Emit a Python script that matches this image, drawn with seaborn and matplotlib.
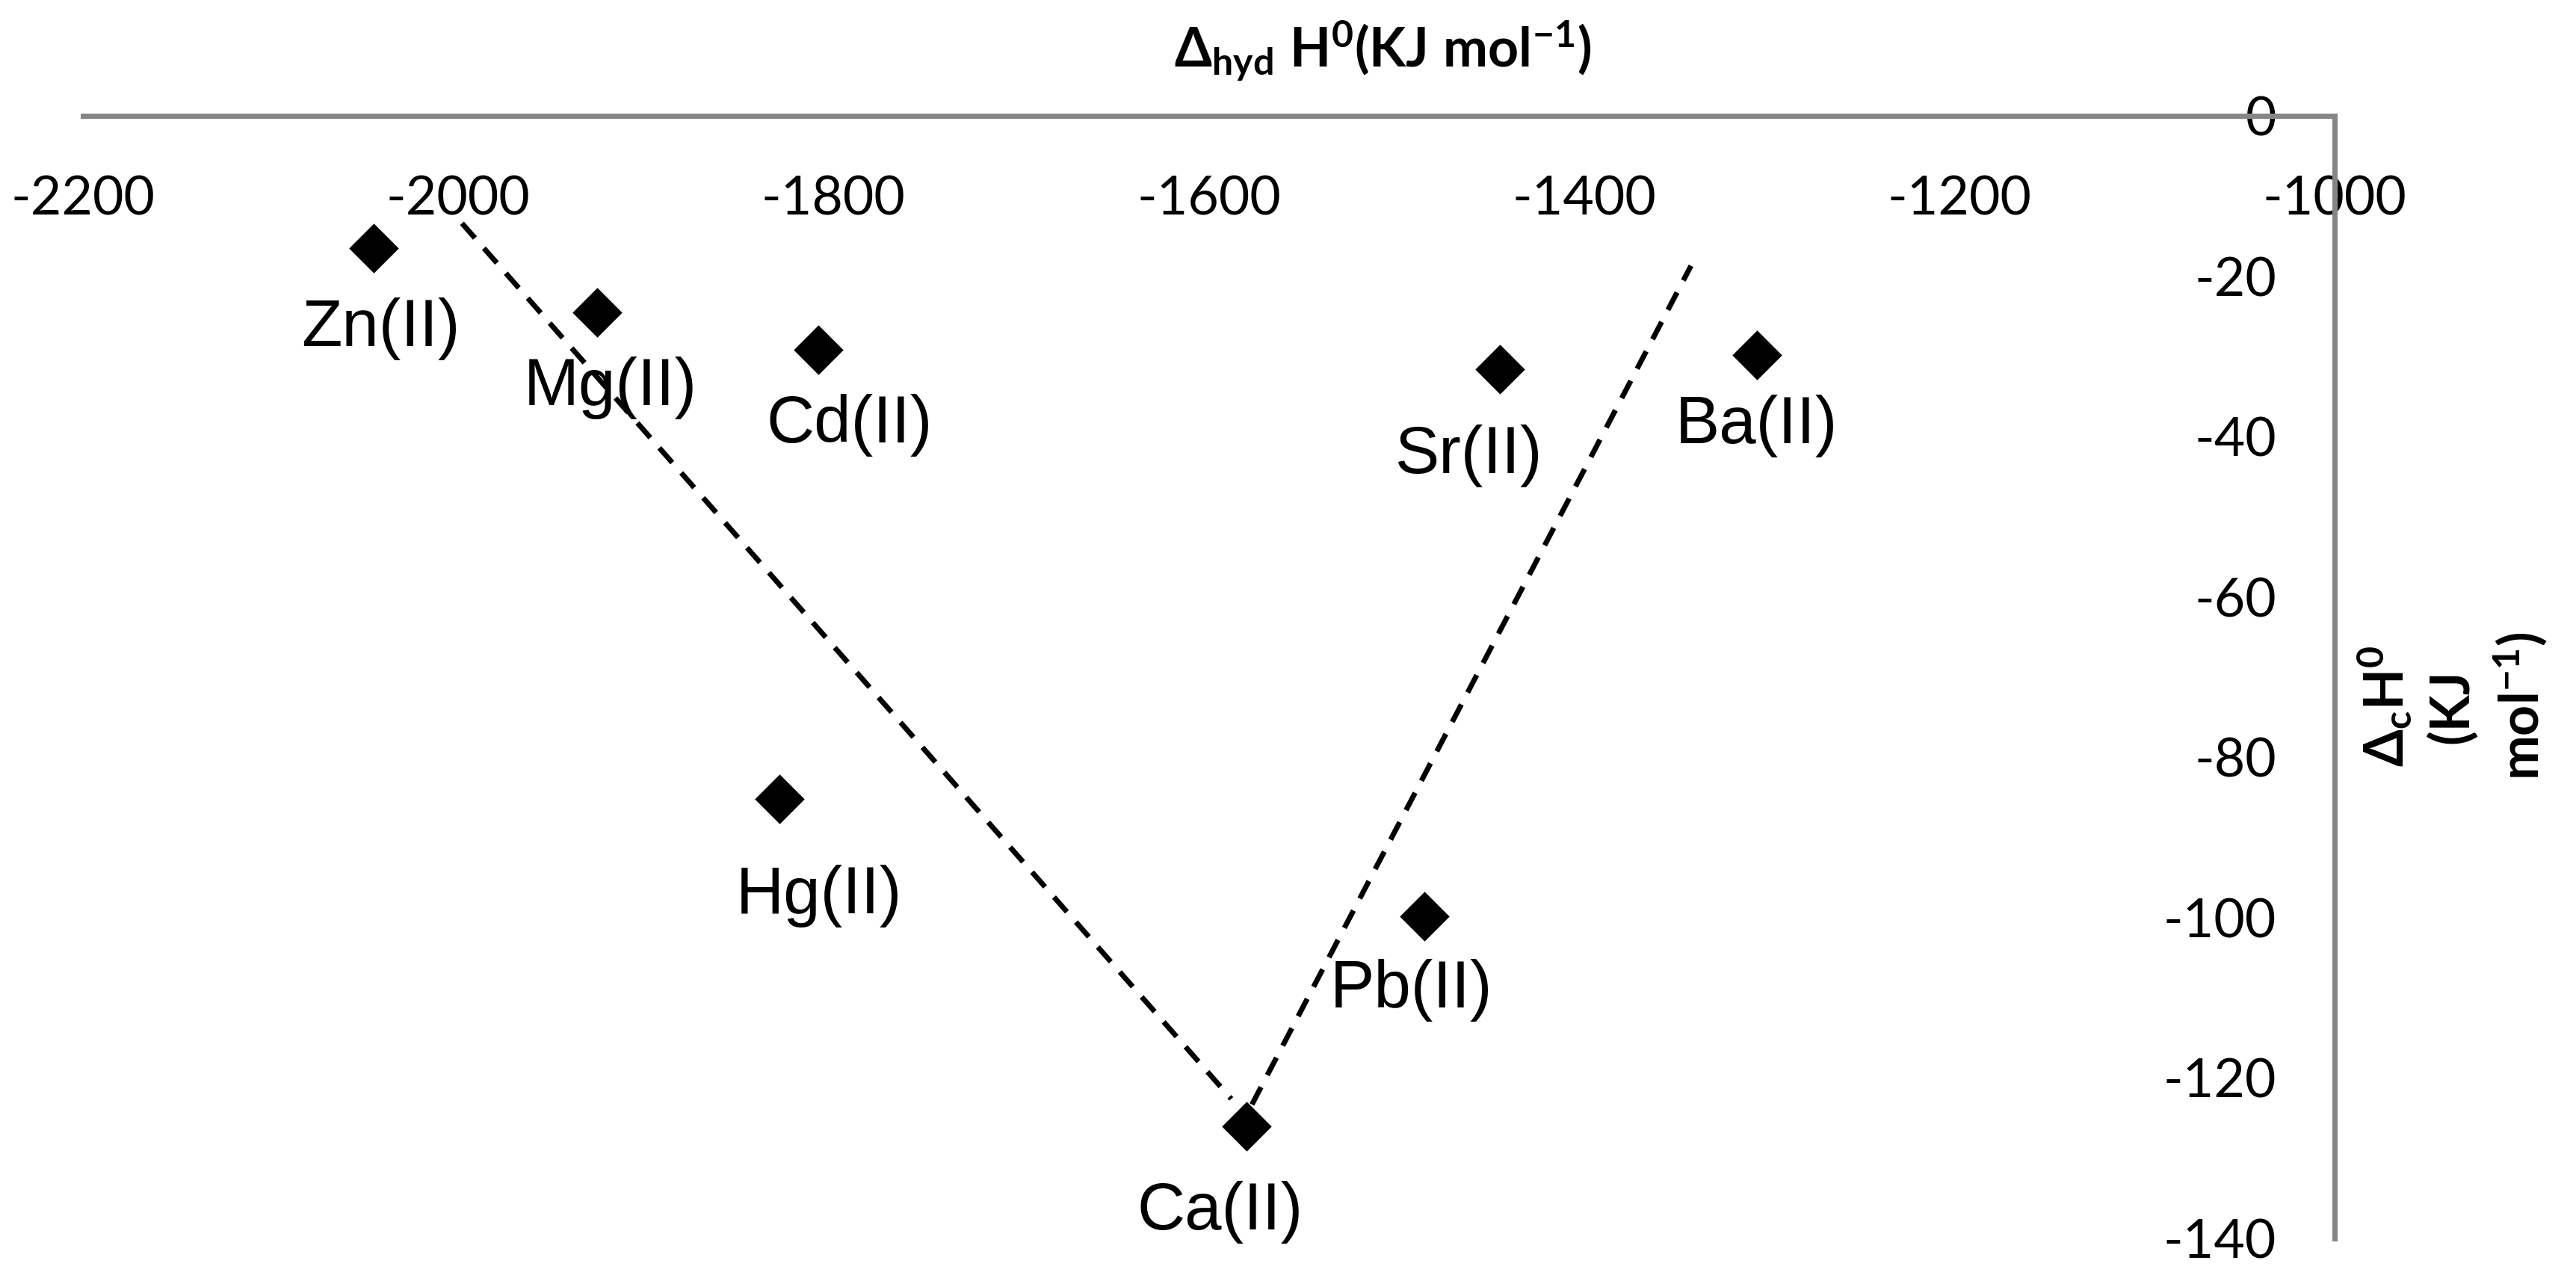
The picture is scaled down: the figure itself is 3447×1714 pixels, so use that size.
import matplotlib
matplotlib.use('Agg')
import matplotlib.pyplot as plt
import seaborn as sns
import pandas as pd

# ions and their enthalpies
ions = ['Zn(II)', 'Mg(II)', 'Cd(II)', 'Hg(II)', 'Ca(II)', 'Pb(II)', 'Sr(II)', 'Ba(II)']
hyd_enthalpy = [-2045, -1926, -1808, -1829, -1580, -1485, -1445, -1308]
complex_enthalpy = [-16.5, -24.5, -29.2, -85.2, -126.0, -99.8, -31.6, -29.8]

# the two dashed guide lines (end points)
left_line_x = [-1998, -1588]
left_line_y = [-13.4, -122.6]
right_line_x = [-1577, -1343]
right_line_y = [-123.3, -18.7]

x_ticks = [-2200, -2000, -1800, -1600, -1400, -1200, -1000]
y_ticks = [0, -20, -40, -60, -80, -100, -120, -140]

# label placement relative to marker, in pixels (right, down to baseline)
label_offsets = {
    'Zn(II)': (9, 131), 'Mg(II)': (18, 124), 'Cd(II)': (41, 124),
    'Hg(II)': (53, 153), 'Ca(II)': (-35, 138), 'Pb(II)': (-18, 122),
    'Sr(II)': (-41, 139), 'Ba(II)': (0, 118),
}

DPI = 200
PX = 72 / DPI  # points per pixel
GREY = '#868686'

sns.set_style('white')
plt.rcParams['font.family'] = ['Lato', 'DejaVu Sans']
plt.rcParams['text.color'] = 'black'
plt.rcParams['axes.unicode_minus'] = False
plt.rcParams['mathtext.fontset'] = 'custom'
plt.rcParams['mathtext.rm'] = 'Lato'
plt.rcParams['mathtext.it'] = 'Lato:italic'
plt.rcParams['mathtext.bf'] = 'Lato:bold'

df = pd.DataFrame({'ion': ions, 'hyd': hyd_enthalpy, 'c': complex_enthalpy})

fig = plt.figure(figsize=(3447 / DPI, 1714 / DPI), dpi=DPI)
ax = fig.add_axes([111 / 3447, 1 - 1657 / 1714, 3013 / 3447, 1502 / 1714])

dash = (0, (3.75, 2.6))
sns.lineplot(x=left_line_x, y=left_line_y, ax=ax, color='black', lw=7 * PX, linestyle=dash)
sns.lineplot(x=right_line_x, y=right_line_y, ax=ax, color='black', lw=7 * PX, linestyle=dash)
sns.scatterplot(data=df, x='hyd', y='c', ax=ax, marker='D', s=(47 * PX) ** 2,
                color='black', linewidth=0, zorder=3)

for name, xv, yv in zip(ions, hyd_enthalpy, complex_enthalpy):
    dx, dy = label_offsets[name]
    ax.annotate(name, (xv, yv), xytext=(dx * PX, -dy * PX), textcoords='offset points',
                ha='center', va='baseline', fontsize=32, color='black',
                family=['Liberation Sans', 'DejaVu Sans'])

ax.set_xlim(-2200, -1000)
ax.set_ylim(-140, 0)
ax.set_xticks(x_ticks)
ax.set_yticks(y_ticks)
ax.set_xlabel('')
ax.set_ylabel('')

# axes cross at the top-right corner like the Excel original
ax.spines['bottom'].set_position(('data', 0))
ax.spines['left'].set_position(('data', -1000))
ax.spines['top'].set_visible(False)
ax.spines['right'].set_visible(False)
for s in ['bottom', 'left']:
    ax.spines[s].set_color(GREY)
    ax.spines[s].set_linewidth(7 * PX)

ax.tick_params(direction='in', length=24 * PX, width=7 * PX, color=GREY,
               labelsize=25.8, labelcolor='black')
ax.tick_params(axis='x', pad=80 * PX)
ax.tick_params(axis='y', pad=78 * PX)

fig.text(1850 / 3447, 1 - 67 / 1714, r'$\mathbf{\Delta_{hyd}\ H^{0}(KJ\ mol^{-1})}$',
         ha='center', va='center', fontsize=25.8, color='black')
fig.text(3282 / 3447, 1 - 945 / 1714,
         '$\\mathbf{\\Delta_{c}H^{0}}$\n(KJ\nmol$^{\\mathbf{-1}}$)',
         rotation=90, ha='center', va='center', multialignment='center',
         fontsize=25.8, fontweight='bold', linespacing=1.3, color='black')

fig.savefig('out.png', dpi=DPI, facecolor='white')
